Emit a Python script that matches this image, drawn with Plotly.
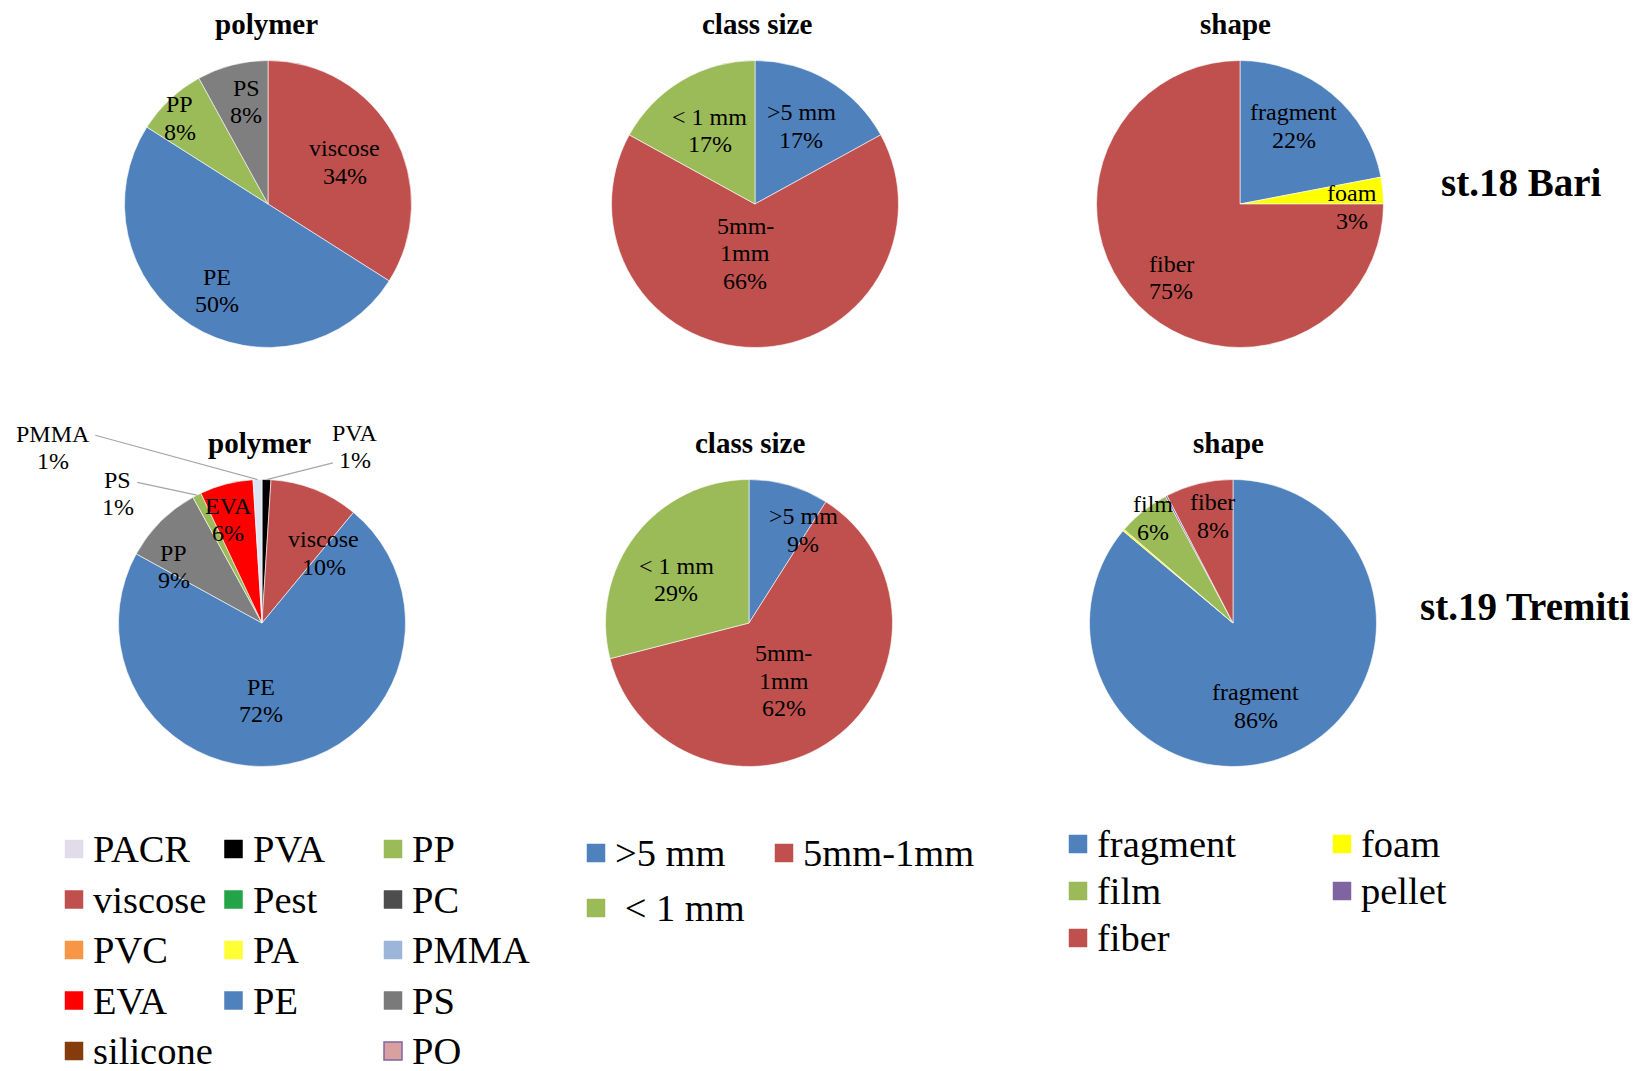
import math
import plotly.graph_objects as go

# page size and the default 8px body margin of the written html page
PAGE_W, PAGE_H = 1643, 1071
OFF = 8
W, H = PAGE_W - OFF, PAGE_H - OFF

# ---------------- data ----------------
# st.18 Bari
poly18_labels = ["viscose", "PE", "PP", "PS"]
poly18_values = [34, 50, 8, 8]
poly18_colors = ["#c0504d", "#4f81bd", "#9bbb59", "#7f7f7f"]

size_labels = [">5 mm", "5mm-1mm", "< 1 mm"]
size_text = [">5 mm", "5mm-<br>1mm", "< 1 mm"]
size_colors = ["#4f81bd", "#c0504d", "#9bbb59"]
size18_values = [17, 66, 17]

shape18_labels = ["fragment", "foam", "fiber"]
shape18_values = [22, 3, 75]
shape18_colors = ["#4f81bd", "#ffff00", "#c0504d"]

# st.19 Tremiti
poly19_labels = ["PVA", "viscose", "PE", "PP", "PS", "EVA", "PMMA"]
poly19_values = [1, 10, 72, 9, 1, 6, 1]
poly19_colors = ["#000000", "#c0504d", "#4f81bd", "#7f7f7f", "#9bbb59", "#ff0000", "#dce6f2"]

size19_values = [9, 62, 29]

shape19_labels = ["fragment", "foam", "film", "pellet", "fiber"]
shape19_values = [86.1, 0.2, 5.9, 0.2, 7.6]
shape19_colors = ["#4f81bd", "#ffff00", "#9bbb59", "#8064a2", "#c0504d"]

# legends
poly_legend_names = ["PACR", "PVA", "PP", "viscose", "Pest", "PC", "PVC", "PA", "PMMA",
                     "EVA", "PE", "PS", "silicone", None, "PO"]
poly_legend_colors = ["#e1dcea", "#000000", "#9bbb59", "#c0504d", "#23a449", "#4d4d4d",
                      "#f79646", "#ffff33", "#9db5d8", "#ff0000", "#4f81bd", "#7a7a7a",
                      "#843c0c", None, "#d9a0a0"]
size_legend_names = [">5 mm", "5mm-1mm", " < 1 mm"]
shape_legend_names = ["fragment", "foam", "film", "pellet", "fiber"]
shape_legend_colors = ["#4f81bd", "#ffff00", "#9bbb59", "#8064a2", "#c0504d"]

station_names = ["st.18 Bari", "st.19 Tremiti"]
panel_titles = ["polymer", "class size", "shape"]

# ---------------- layout helpers ----------------
SERIF = "Liberation Serif, Times New Roman, serif"
LABEL_SIZE = 24
LABEL_LINE = 27.5
R = 143.5

fig = go.Figure()
annotations = []
shapes = []


def px_to_paper(x, y):
    return (x - OFF) / W, 1 - (y - OFF) / H


def add_text(x, y, text, size, bold=False, xanchor="center"):
    xp, yp = px_to_paper(x, y)
    if bold:
        text = "<b>" + text + "</b>"
    annotations.append(dict(x=xp, y=yp, xref="paper", yref="paper", text=text,
                            showarrow=False, xanchor=xanchor, yanchor="middle",
                            font=dict(family=SERIF, size=size, color="black")))


def add_label(x, y, text):
    lines = text.split("<br>")
    n = len(lines)
    for k, ln in enumerate(lines):
        add_text(x, y + (k - (n - 1) / 2) * LABEL_LINE, ln, LABEL_SIZE)


def add_pie(labels, values, colors, cx, cy, texts, place, leaders=None):
    x0, y1 = px_to_paper(cx - R, cy - R)
    x1, y0 = px_to_paper(cx + R, cy + R)
    fig.add_trace(go.Pie(
        labels=labels, values=values, sort=False, direction="clockwise", rotation=0,
        marker=dict(colors=colors, line=dict(color="white", width=0.6)),
        textinfo="none", hoverinfo="label+percent", showlegend=False,
        domain=dict(x=[x0, x1], y=[y0, y1]),
    ))
    total = sum(values)
    cum = 0.0
    mids = []
    for v in values:
        mids.append((cum + v / 2) / total * 360.0)
        cum += v
    for i, v in enumerate(values):
        if place[i] is None:
            continue
        dth, f = place[i]
        th = math.radians(mids[i] + dth)
        x = cx + f * R * math.sin(th)
        y = cy - f * R * math.cos(th)
        pct = round(v / total * 100)
        add_label(x, y, f"{texts[i]}<br>{pct}%")
    if leaders:
        for i, (dth, f) in leaders.items():
            t0 = math.radians(mids[i])
            t1 = math.radians(mids[i] + dth)
            xa, ya = px_to_paper(cx + R * math.sin(t0), cy - R * math.cos(t0))
            xb, yb = px_to_paper(cx + f * R * math.sin(t1), cy - f * R * math.cos(t1))
            shapes.append(dict(type="line", xref="paper", yref="paper",
                               x0=xa, y0=ya, x1=xb, y1=yb,
                               line=dict(color="#a6a6a6", width=1.2)))


# ---------------- st.18 Bari ----------------
add_pie(poly18_labels, poly18_values, poly18_colors, 268, 204, poly18_labels,
        [(0, 0.61), (-2, 0.70), (-2.5, 0.86), (2.3, 0.73)])
add_pie(size_labels, size18_values, size_colors, 755, 204, size_text,
        [(0, 0.63), (11, 0.35), (-1, 0.60)])
add_pie(shape18_labels, shape18_values, shape18_colors, 1240, 204, shape18_labels,
        [(-5, 0.66), (7, 0.78), (-2, 0.70)])

# ---------------- st.19 Tremiti ----------------
add_pie(poly19_labels, poly19_values, poly19_colors, 262, 623, poly19_labels,
        [(26, 1.39), (20, 0.65), (11.6, 0.54), (-12.3, 0.73), (-21.1, 1.35),
         (-3.6, 0.76), (-48.1, 1.90)],
        leaders={0: (22.1, 1.22), 4: (-14.6, 1.31), 6: (-39.8, 1.75)})
add_pie(size_labels, size19_values, size_colors, 749, 623, size_text,
        [(14.1, 0.75), (5, 0.47), (-6.8, 0.59)])
add_pie(shape19_labels, shape19_values, shape19_colors, 1233, 623, shape19_labels,
        [(9.6, 0.60), None, (1.5, 0.92), None, (3.1, 0.76)])

# ---------------- titles ----------------
TITLE_SIZE = 29
for (x, y), t in zip([(266, 24), (757, 24), (1235, 24)], panel_titles):
    add_text(x, y, t, TITLE_SIZE, bold=True)
for (x, y), t in zip([(259, 443), (750, 443), (1228, 443)], panel_titles):
    add_text(x, y, t, TITLE_SIZE, bold=True)
add_text(1521, 182, station_names[0], 39, bold=True)
add_text(1525, 606, station_names[1], 39, bold=True)

# ---------------- legends ----------------
LEG_SIZE = 38.5
SQ = 18


def legend_block(names, colors, x0, y0, ncol, dx, dy, gap=8, borders=None):
    for k, (n, c) in enumerate(zip(names, colors)):
        if n is None:
            continue
        row, col = divmod(k, ncol)
        x = x0 + col * dx
        y = y0 + row * dy
        ax, ay = px_to_paper(x - SQ / 2, y - SQ / 2)
        bx, by = px_to_paper(x + SQ / 2, y + SQ / 2)
        lc = c
        lw = 0.5
        if borders and n in borders:
            lc = borders[n]
            lw = 1.5
        shapes.append(dict(type="rect", xref="paper", yref="paper", x0=ax, y0=by,
                           x1=bx, y1=ay, fillcolor=c, line=dict(color=lc, width=lw)))
        add_text(x + SQ / 2 + gap, y, n, LEG_SIZE, xanchor="left")


legend_block(poly_legend_names, poly_legend_colors, 74, 849, 3, 159.5, 50.5,
             borders={"PO": "#8064a2"})
legend_block(size_legend_names, size_colors, 596, 853, 2, 188, 55)
legend_block(shape_legend_names, shape_legend_colors, 1078, 844, 2, 264, 47)

fig.update_layout(
    width=W, height=H, margin=dict(l=0, r=0, t=0, b=0),
    paper_bgcolor="white", plot_bgcolor="white", showlegend=False,
    annotations=annotations, shapes=shapes,
)
fig.write_html("out.html")
